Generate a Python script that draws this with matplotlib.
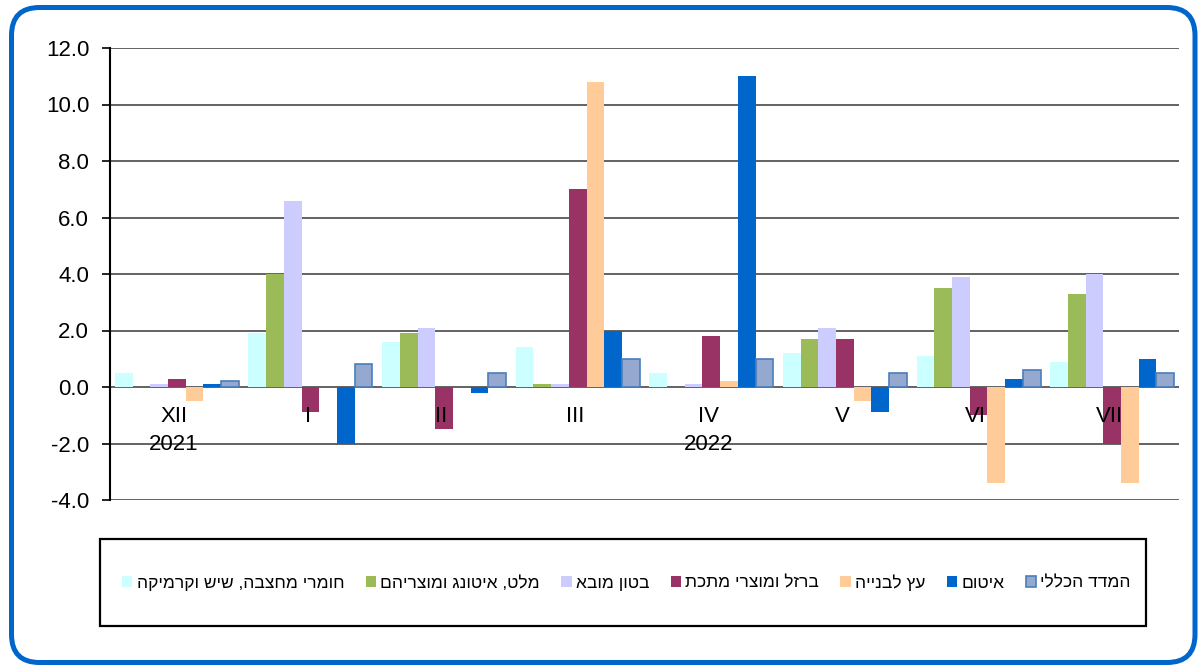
import matplotlib
matplotlib.use("Agg")
import matplotlib.pyplot as plt
import numpy as np
from matplotlib.patches import FancyBboxPatch, Rectangle

plt.rcParams['font.family'] = ['Liberation Sans', 'DejaVu Sans']

# ---- data ----
months = ["XII", "I", "II", "III", "IV", "V", "VI", "VII"]
years = ["2021", "", "", "", "2022", "", "", ""]

series_names = [
    "חומרי מחצבה, שיש וקרמיקה",
    "מלט, איטונג ומוצריהם",
    "בטון מובא",
    "ברזל ומוצרי מתכת",
    "עץ לבנייה",
    "איטום",
    "המדד הכללי",
]
quarry = [0.5, 1.9, 1.6, 1.4, 0.5, 1.2, 1.1, 0.9]
cement = [0.0, 4.0, 1.9, 0.1, 0.0, 1.7, 3.5, 3.3]
concrete = [0.1, 6.6, 2.1, 0.1, 0.1, 2.1, 3.9, 4.0]
iron = [0.3, -0.9, -1.5, 7.0, 1.8, 1.7, -1.0, -2.0]
wood = [-0.5, 0.0, 0.0, 10.8, 0.2, -0.5, -3.4, -3.4]
sealing = [0.1, -2.0, -0.2, 2.0, 11.0, -0.9, 0.3, 1.0]
general = [0.2, 0.8, 0.5, 1.0, 1.0, 0.5, 0.6, 0.5]
series_values = [quarry, cement, concrete, iron, wood, sealing, general]

colors = ["#CCFFFF", "#9BBB59", "#CCCCFF", "#993366", "#FFCC99", "#0066CC", "#95A9D0"]
edges = [None, None, None, None, None, None, "#4A7EBB"]

yticks = [-4, -2, 0, 2, 4, 6, 8, 10, 12]


def vis(s):
    # matplotlib has no bidi support: reverse Hebrew for visual order
    return s[::-1]


fig = plt.figure(figsize=(11.99, 6.66), dpi=100)
W, H = 1199, 666

# outer rounded blue frame (in inches so corners stay round)
frame = FancyBboxPatch((11.5 / 100, 3.5 / 100), (1195 - 11.5) / 100, (658.5 - 3.5) / 100,
                       boxstyle="round,pad=0,rounding_size=0.28",
                       transform=fig.dpi_scale_trans, fill=False,
                       edgecolor="#0066CC", linewidth=3.6, zorder=0)
fig.patches.append(frame)

ax = fig.add_axes([110 / W, 1 - 500 / H, (1179 - 110) / W, (500 - 48) / H])
ax.set_facecolor("none")

x = np.arange(len(months))
nser = len(series_values)
bw = 0.1325
for i, (vals, c, e) in enumerate(zip(series_values, colors, edges)):
    ax.bar(x + (i - (nser - 1) / 2) * bw, vals, width=bw, color=c,
           edgecolor=e if e else c, linewidth=1.2 if e else 0.0,
           label=vis(series_names[i]), zorder=3)

ax.set_xlim(-0.5, len(months) - 0.5)
ax.set_ylim(-4, 12)
ax.set_yticks(yticks)
ax.set_yticklabels([f"{v:.1f}" for v in yticks])
ax.tick_params(axis='y', direction='out', length=6, width=1.2, pad=9,
               labelsize=16, colors='black')
ax.set_xticks([])
for y in yticks:
    ax.axhline(y, color="#383838", linewidth=1.1, zorder=1)

for s in ["top", "right", "bottom"]:
    ax.spines[s].set_visible(False)
ax.spines["left"].set_linewidth(1.5)
ax.spines["left"].set_zorder(4)

for xi, m, yr in zip(x, months, years):
    ax.text(xi - 0.02, -1.05, m, ha="center", va="center", fontsize=16, zorder=5)
    if yr:
        ax.text(xi - 0.02, -2.05, yr, ha="center", va="center", fontsize=16, zorder=5)

# legend box
fig.patches.append(Rectangle((100 / W, 1 - 626 / H), 1046 / W, 87 / H,
                             transform=fig.transFigure, fill=False,
                             edgecolor="black", linewidth=1.6))
handles, labels = ax.get_legend_handles_labels()
leg = fig.legend(handles, labels, loc="center",
                 bbox_to_anchor=(122 / W, 1 - 626 / H, (1131 - 122) / W, 87 / H),
                 mode="expand", ncol=7, frameon=False, fontsize=12.5,
                 handlelength=0.6, handleheight=0.6, handletextpad=0.25,
                 borderpad=0, borderaxespad=0, columnspacing=0.5)

fig.savefig("out.png", dpi=100)
